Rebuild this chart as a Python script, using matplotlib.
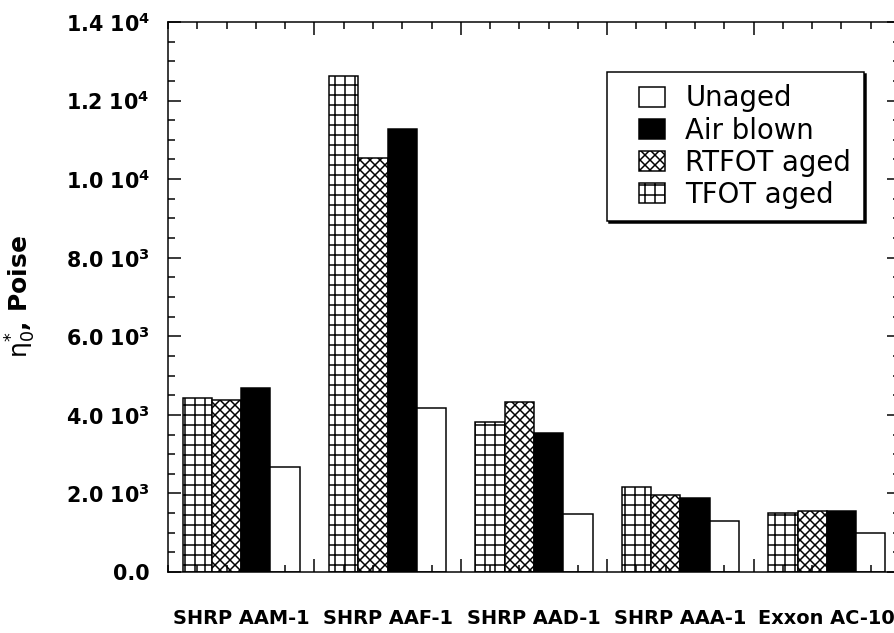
import numpy as np
import matplotlib
matplotlib.use('Agg')
from matplotlib import pyplot as plt
from matplotlib.ticker import MultipleLocator, FixedLocator
from matplotlib.patches import Rectangle
from matplotlib.legend_handler import HandlerPatch

plt.rcParams.update({'font.family': 'DejaVu Sans',
                     'mathtext.default': 'bf',
                     'hatch.linewidth': 0.9})

# data (zero-shear viscosity, Poise)
binders = ['SHRP AAM-1', 'SHRP AAF-1', 'SHRP AAD-1', 'SHRP AAA-1', 'Exxon AC-10']
tfot = [4440, 12620, 3830, 2170, 1490]
rtfot = [4390, 10540, 4320, 1960, 1560]
air_blown = [4680, 11280, 3530, 1880, 1560]
unaged = [2670, 4170, 1480, 1300, 1000]

ytick_vals = [0, 2000, 4000, 6000, 8000, 10000, 12000, 14000]
ytick_labels = ['0.0', r'2.0 10$^{3}$', r'4.0 10$^{3}$', r'6.0 10$^{3}$',
                r'8.0 10$^{3}$', r'1.0 10$^{4}$', r'1.2 10$^{4}$', r'1.4 10$^{4}$']

dpi = 120
fig = plt.figure(figsize=(894 / dpi, 633 / dpi), dpi=dpi)
ax = fig.add_axes([168 / 894, 61 / 633, 732 / 894, 550 / 633])

groups = np.arange(len(binders))
w = 0.2
series = [
    (tfot, 'white', '++', 'TFOT aged'),
    (rtfot, 'white', 'xxxx', 'RTFOT aged'),
    (air_blown, 'black', None, 'Air blown'),
    (unaged, 'white', None, 'Unaged'),
]
handles = {}
for k, (vals, fc, hatch, lab) in enumerate(series):
    bars = ax.bar(groups + 0.1 + k * w, vals, width=w, align='edge',
                  facecolor=fc, edgecolor='black', hatch=hatch,
                  linewidth=0.9, label=lab)
    handles[lab] = bars.patches[0]

ax.set_xlim(0, 5)
ax.set_ylim(0, 14000)
ax.xaxis.set_major_locator(FixedLocator([1, 2, 3, 4, 5]))
ax.xaxis.set_minor_locator(MultipleLocator(0.2))
ax.set_xticklabels([])
ax.set_yticks(ytick_vals)
ax.set_yticklabels(ytick_labels, fontsize=12.4, fontweight='bold')
ax.yaxis.set_minor_locator(MultipleLocator(500))
ax.tick_params(which='both', direction='in', top=True, right=True, width=0.9)
ax.tick_params(which='major', length=7.8)
ax.tick_params(which='minor', length=4.2)
ax.tick_params(axis='y', pad=11)
for s in ax.spines.values():
    s.set_linewidth(0.9)

# category labels under each group
for g, name in zip(groups, binders):
    ax.text(g + 0.5, -0.085, name, transform=ax.get_xaxis_transform(),
            ha='center', va='center', fontsize=11.6, fontweight='bold')

ax.set_ylabel(r'$\mathrm{\eta^{*}_{0}}$, Poise', fontsize=15, fontweight='bold')
ax.yaxis.set_label_coords(-0.178, 0.5)

order = ['Unaged', 'Air blown', 'RTFOT aged', 'TFOT aged']
leg = ax.legend([handles[o] for o in order], order, loc='upper left',
                bbox_to_anchor=(0.5997, 0.909), borderaxespad=0,
                fontsize=16.5, frameon=True, fancybox=False,
                edgecolor='black', framealpha=1, borderpad=0.45,
                labelspacing=0.15, handlelength=1.65, handleheight=0.75,
                handletextpad=0.75,
                handler_map={Rectangle: HandlerPatch(xpad=0.7)},
                shadow={'color': 'black', 'alpha': 1, 'ox': 1.2, 'oy': -1.2})
leg.get_frame().set_linewidth(0.9)

fig.savefig('out.png', dpi=dpi)
